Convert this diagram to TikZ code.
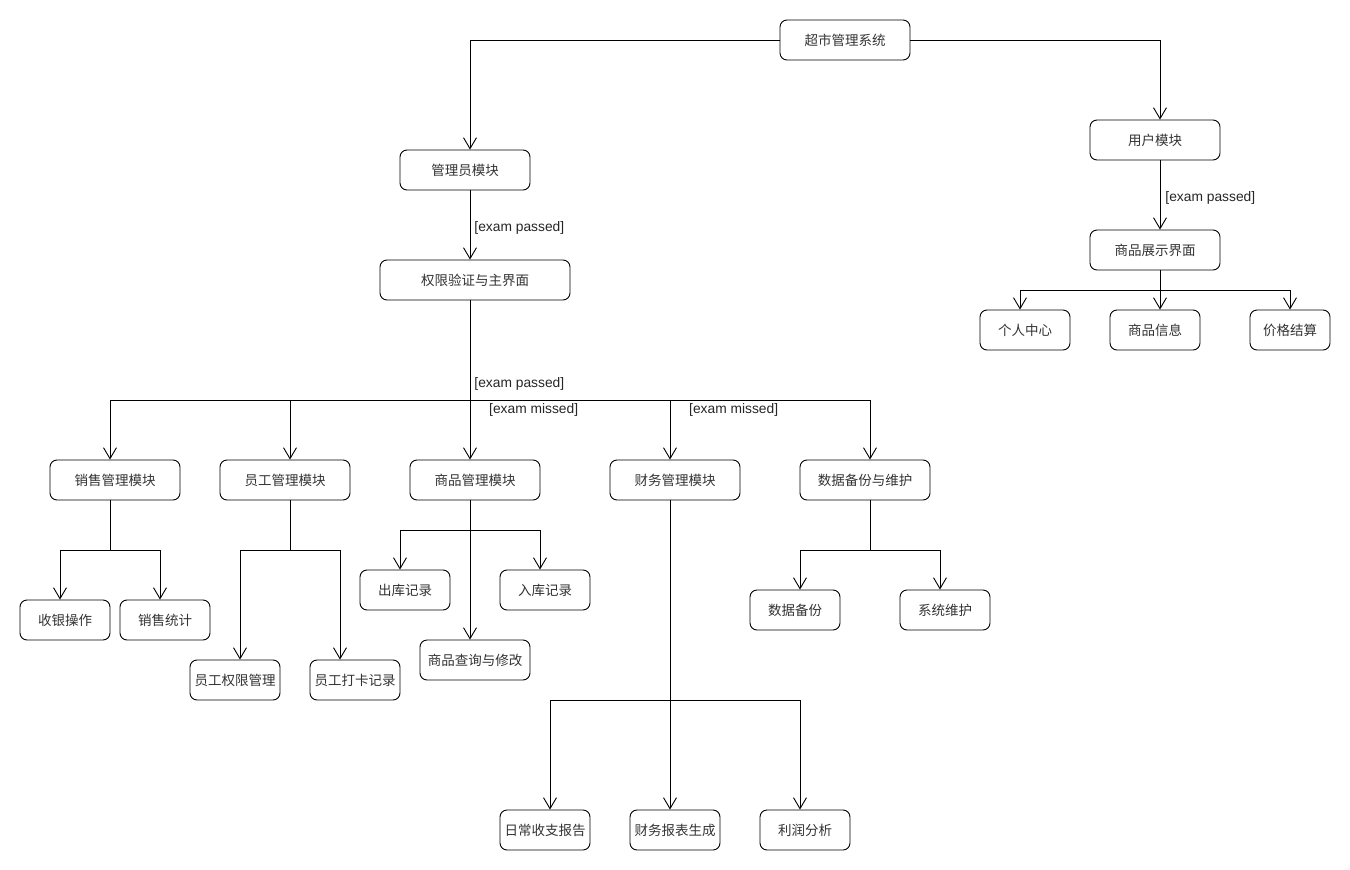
\documentclass[tikz,border=0pt]{standalone}
\usepackage{fontspec}
\setmainfont{Liberation Sans}
\newfontfamily\cjk{Noto Sans CJK SC}
\usetikzlibrary{arrows.meta}
\begin{document}
\begin{tikzpicture}[x=1pt,y=-1pt,
  box/.style={draw, rounded corners=7pt, line width=0.9pt, minimum height=40pt, inner sep=0pt,
    font=\cjk\fontsize{13.5}{15}\selectfont, text=black!80},
  arr/.style={draw, line width=0.9pt, -{Straight Barb[length=11pt,width=13pt]}},
  ln/.style={draw, line width=0.9pt},
  lbl/.style={font=\fontsize{13.8}{15}\selectfont, anchor=west, inner sep=0pt, text=black!85}]
\fill[white] (0,0) rectangle (1350,870);
\useasboundingbox (0,0) rectangle (1350,870);

% nodes
\node[box, minimum width=130] (root)  at (845,40)  {超市管理系统};
\node[box, minimum width=130] (adm)   at (465,170) {管理员模块};
\node[box, minimum width=130] (user)  at (1155,140) {用户模块};
\node[box, minimum width=130] (disp)  at (1155,250) {商品展示界面};
\node[box, minimum width=90]  (pc)    at (1025,330) {个人中心};
\node[box, minimum width=90]  (ginfo) at (1155,330) {商品信息};
\node[box, minimum width=80]  (price) at (1290,330) {价格结算};
\node[box, minimum width=190] (perm)  at (475,280) {权限验证与主界面};
\node[box, minimum width=130] (sales) at (115,480) {销售管理模块};
\node[box, minimum width=130] (emp)   at (285,480) {员工管理模块};
\node[box, minimum width=130] (goods) at (475,480) {商品管理模块};
\node[box, minimum width=130] (fin)   at (675,480) {财务管理模块};
\node[box, minimum width=130] (data)  at (865,480) {数据备份与维护};
\node[box, minimum width=90]  (cash)  at (65,620)  {收银操作};
\node[box, minimum width=90]  (sstat) at (165,620) {销售统计};
\node[box, minimum width=90]  (eperm) at (235,680) {员工权限管理};
\node[box, minimum width=90]  (eclock) at (355,680) {员工打卡记录};
\node[box, minimum width=90]  (gout)  at (405,590) {出库记录};
\node[box, minimum width=90]  (gin)   at (545,590) {入库记录};
\node[box, minimum width=110] (query) at (475,660) {商品查询与修改};
\node[box, minimum width=90]  (daily) at (545,830) {日常收支报告};
\node[box, minimum width=90]  (report) at (675,830) {财务报表生成};
\node[box, minimum width=90]  (profit) at (805,830) {利润分析};
\node[box, minimum width=90]  (backup) at (795,610) {数据备份};
\node[box, minimum width=90]  (maint) at (945,610) {系统维护};

% top level
\draw[arr] (root.west) -| ([xshift=5]adm.north);
\draw[arr] (root.east) -| ([xshift=5]user.north);
\draw[arr] ([xshift=5]user.south) -- ([xshift=5]disp.north)
  node[lbl, pos=0.54, xshift=5pt] {[exam passed]};
\draw[arr] ([xshift=5]disp.south) -- ++(0,20) -| ([xshift=-5]pc.north);
\draw[arr] ([xshift=5]disp.south) -- ++(0,20) -| ([xshift=5]ginfo.north);
\draw[arr] ([xshift=5]disp.south) -- ++(0,20) -| (price.north);

\draw[arr] ([xshift=5]adm.south) -- ([xshift=-5]perm.north)
  node[lbl, pos=0.54, xshift=4pt] {[exam passed]};

% admin bus
\draw[ln] ([xshift=-5]perm.south) -- ++(0,100) coordinate (bus)
  node[lbl, pos=0.83, xshift=4pt] {[exam passed]};
\draw[arr] (bus) -| ([xshift=-5]sales.north);
\draw[arr] (bus) -| ([xshift=5]emp.north);
\draw[arr] (bus) -- ([xshift=-5]goods.north);
\draw[arr] (bus) -| ([xshift=-5]fin.north);
\draw[arr] (bus) -| ([xshift=5]data.north);
\node[lbl] (miss1) at ([xshift=19pt, yshift=-9pt]bus) {[exam missed]};
\node[lbl] (miss2) at ([xshift=219pt, yshift=-9pt]bus) {[exam missed]};

% sales
\draw[arr] ([xshift=-5]sales.south) -- ++(0,50) -| ([xshift=-5]cash.north);
\draw[arr] ([xshift=-5]sales.south) -- ++(0,50) -| ([xshift=-5]sstat.north);
% employees
\draw[arr] ([xshift=5]emp.south) -- ++(0,50) -| ([xshift=5]eperm.north);
\draw[arr] ([xshift=5]emp.south) -- ++(0,50) -| ([xshift=-15]eclock.north);
% goods
\draw[arr] ([xshift=-5]goods.south) -- ++(0,30) -| ([xshift=-5]gout.north);
\draw[arr] ([xshift=-5]goods.south) -- ++(0,30) -| ([xshift=-5]gin.north);
\draw[arr] ([xshift=-5]goods.south) -- ([xshift=-5]query.north);
% finance
\draw[arr] ([xshift=-5]fin.south) -- ++(0,200) -| ([xshift=5]daily.north);
\draw[arr] ([xshift=-5]fin.south) -- ++(0,200) -| ([xshift=-5]profit.north);
\draw[arr] ([xshift=-5]fin.south) -- ([xshift=-5]report.north);
% data
\draw[arr] ([xshift=5]data.south) -- ++(0,50) -| ([xshift=5]backup.north);
\draw[arr] ([xshift=5]data.south) -- ++(0,50) -| ([xshift=-5]maint.north);
\end{tikzpicture}
\end{document}
